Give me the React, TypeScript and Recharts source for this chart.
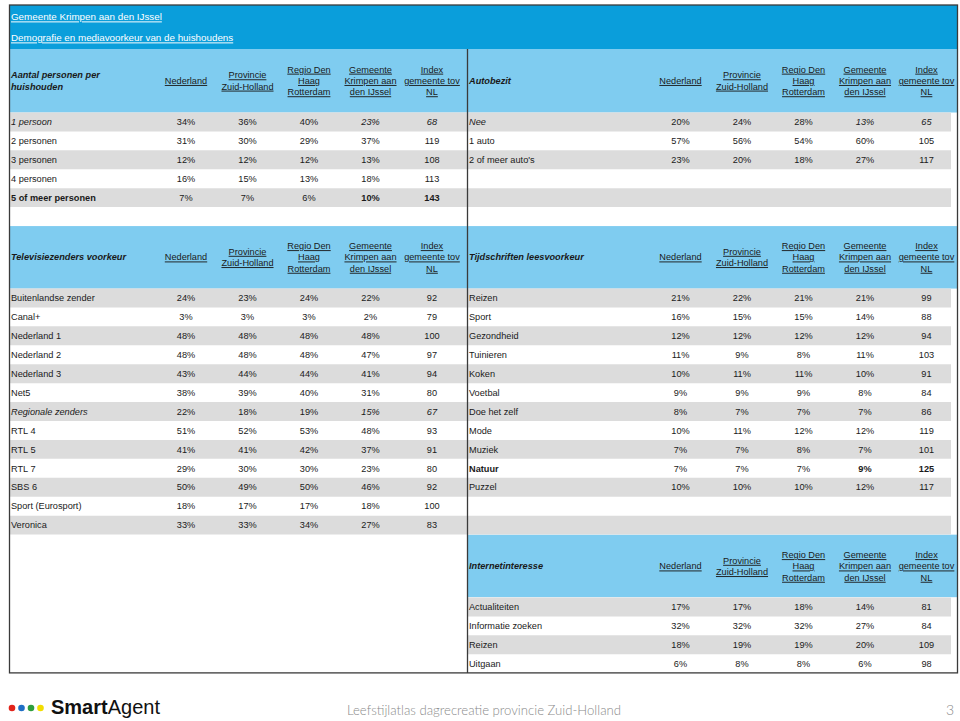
import React from 'react';
import { ScatterChart, Scatter, XAxis, YAxis, ReferenceArea, Surface } from 'recharts';

// ---------- text content ----------
const titleLines = ['Gemeente Krimpen aan den IJssel', 'Demografie en mediavoorkeur van de huishoudens'];
const columnHeaders: string[][] = [
  ['Nederland'],
  ['Provincie', 'Zuid-Holland'],
  ['Regio Den', 'Haag', 'Rotterdam'],
  ['Gemeente', 'Krimpen aan', 'den IJssel'],
  ['Index', 'gemeente tov', 'NL'],
];
const footerBrandBold = 'Smart';
const footerBrandRegular = 'Agent';
const footerCaption = 'Leefstijlatlas dagrecreatie provincie Zuid-Holland';
const footerPage = '3';
const logoDotColors = ['#e2231a', '#1f6fc5', '#2e9e3e', '#f2dd00'];

// ---------- Aantal personen per huishouden ----------
const hhTitle = ['Aantal personen per', 'huishouden'];
const hhCategories = ['1 persoon', '2 personen', '3 personen', '4 personen', '5 of meer personen'];
const hhNederland = [34, 31, 12, 16, 7];
const hhProvincie = [36, 30, 12, 15, 7];
const hhRegio = [40, 29, 12, 13, 6];
const hhGemeente = [23, 37, 13, 18, 10];
const hhIndex = [68, 119, 108, 113, 143];
const hhEmphasis = ['italic', 'normal', 'normal', 'normal', 'bold'];

// ---------- Autobezit ----------
const autoTitle = ['Autobezit'];
const autoCategories = ['Nee', '1 auto', "2 of meer auto's"];
const autoNederland = [20, 57, 23];
const autoProvincie = [24, 56, 20];
const autoRegio = [28, 54, 18];
const autoGemeente = [13, 60, 27];
const autoIndex = [65, 105, 117];
const autoEmphasis = ['italic', 'normal', 'normal'];

// ---------- Televisiezenders voorkeur ----------
const tvTitle = ['Televisiezenders voorkeur'];
const tvCategories = ['Buitenlandse zender', 'Canal+', 'Nederland 1', 'Nederland 2', 'Nederland 3', 'Net5', 'Regionale zenders', 'RTL 4', 'RTL 5', 'RTL 7', 'SBS 6', 'Sport (Eurosport)', 'Veronica'];
const tvNederland = [24, 3, 48, 48, 43, 38, 22, 51, 41, 29, 50, 18, 33];
const tvProvincie = [23, 3, 48, 48, 44, 39, 18, 52, 41, 30, 49, 17, 33];
const tvRegio = [24, 3, 48, 48, 44, 40, 19, 53, 42, 30, 50, 17, 34];
const tvGemeente = [22, 2, 48, 47, 41, 31, 15, 48, 37, 23, 46, 18, 27];
const tvIndex = [92, 79, 100, 97, 94, 80, 67, 93, 91, 80, 92, 100, 83];
const tvEmphasis = ['normal', 'normal', 'normal', 'normal', 'normal', 'normal', 'italic', 'normal', 'normal', 'normal', 'normal', 'normal', 'normal'];

// ---------- Tijdschriften leesvoorkeur ----------
const magTitle = ['Tijdschriften leesvoorkeur'];
const magCategories = ['Reizen', 'Sport', 'Gezondheid', 'Tuinieren', 'Koken', 'Voetbal', 'Doe het zelf', 'Mode', 'Muziek', 'Natuur', 'Puzzel'];
const magNederland = [21, 16, 12, 11, 10, 9, 8, 10, 7, 7, 10];
const magProvincie = [22, 15, 12, 9, 11, 9, 7, 11, 7, 7, 10];
const magRegio = [21, 15, 12, 8, 11, 9, 7, 12, 8, 7, 10];
const magGemeente = [21, 14, 12, 11, 10, 8, 7, 12, 7, 9, 12];
const magIndex = [99, 88, 94, 103, 91, 84, 86, 119, 101, 125, 117];
const magEmphasis = ['normal', 'normal', 'normal', 'normal', 'normal', 'normal', 'normal', 'normal', 'normal', 'bold', 'normal'];

// ---------- Internetinteresse ----------
const netTitle = ['Internetinteresse'];
const netCategories = ['Actualiteiten', 'Informatie zoeken', 'Reizen', 'Uitgaan'];
const netNederland = [17, 32, 18, 6];
const netProvincie = [17, 32, 19, 8];
const netRegio = [18, 32, 19, 8];
const netGemeente = [14, 27, 20, 6];
const netIndex = [81, 84, 109, 98];
const netEmphasis = ['normal', 'normal', 'normal', 'normal'];

// ---------- styling / layout ----------
const FONT = '"Liberation Sans", Arial, Helvetica, sans-serif';
const TEXT = '#1a1a1a';
const GRAY = '#dcdcdc';
const LIGHT_BLUE = '#7fccf0';
const DARK_BLUE = '#0a9edb';
const BORDER = '#3a3a3a';
const FS = 9.2;
const LINE_H = 11.3;
const ROW_H = 18.93;

const FRAME_LEFT = 9.5;
const FRAME_RIGHT = 957.5;
const FRAME_TOP = 5;
const DIVIDER_X = 467.5;
const TABLE_TOP = 49;
const HEADER_H1 = 63.5;
const HEADER_H2 = 62.5;

type Side = { left: number; width: number; labelW: number; colW: number; stripeW: number; bandLeft: number; bandRight: number };
const SIDES: Record<string, Side> = {
  left: { left: 10, width: 457.5, labelW: 145.25, colW: 61.5, stripeW: 457.5, bandLeft: FRAME_LEFT, bandRight: DIVIDER_X },
  right: { left: 468, width: 489.5, labelW: 181.75, colW: 61.5, stripeW: 483, bandLeft: DIVIDER_X, bandRight: FRAME_RIGHT },
};

type Block = {
  side: string;
  top: number;
  headerH: number;
  slots: number;
  title: string[];
  categories: string[];
  cols: number[][];
  emphasis: string[];
};

const topA = TABLE_TOP;
const topC = topA + HEADER_H1 + (hhCategories.length + 1) * ROW_H;
const topE = topC + HEADER_H2 + tvCategories.length * ROW_H;
const tableBottom = topE + HEADER_H2 + netCategories.length * ROW_H;

const blocks: Block[] = [
  { side: 'left', top: topA, headerH: HEADER_H1, slots: hhCategories.length, title: hhTitle, categories: hhCategories, cols: [hhNederland, hhProvincie, hhRegio, hhGemeente, hhIndex], emphasis: hhEmphasis },
  { side: 'right', top: topA, headerH: HEADER_H1, slots: hhCategories.length, title: autoTitle, categories: autoCategories, cols: [autoNederland, autoProvincie, autoRegio, autoGemeente, autoIndex], emphasis: autoEmphasis },
  { side: 'left', top: topC, headerH: HEADER_H2, slots: tvCategories.length, title: tvTitle, categories: tvCategories, cols: [tvNederland, tvProvincie, tvRegio, tvGemeente, tvIndex], emphasis: tvEmphasis },
  { side: 'right', top: topC, headerH: HEADER_H2, slots: tvCategories.length, title: magTitle, categories: magCategories, cols: [magNederland, magProvincie, magRegio, magGemeente, magIndex], emphasis: magEmphasis },
  { side: 'right', top: topE, headerH: HEADER_H2, slots: netCategories.length, title: netTitle, categories: netCategories, cols: [netNederland, netProvincie, netRegio, netGemeente, netIndex], emphasis: netEmphasis },
];

const baselines = (center: number, n: number) =>
  Array.from({ length: n }, (_, k) => center - ((n - 1) / 2) * LINE_H + k * LINE_H + FS * 0.35);

const emphStyle = (e: string) => ({
  fontStyle: e === 'italic' ? 'italic' : 'normal',
  fontWeight: e === 'bold' ? 'bold' : 'normal',
});

const LabelShape = (props: any) => {
  const { cx, cy, payload } = props;
  if (cx == null || cy == null) return <g />;
  return (
    <text x={cx + 1} y={cy + FS * 0.35} fontFamily={FONT} fontSize={FS} fill={TEXT} textAnchor="start" {...emphStyle(payload.emph)}>
      {payload.text}
    </text>
  );
};

const CellShape = (props: any) => {
  const { cx, cy, payload } = props;
  if (cx == null || cy == null) return <g />;
  return (
    <text x={cx} y={cy + FS * 0.35} fontFamily={FONT} fontSize={FS} fill={TEXT} textAnchor="middle" {...emphStyle(payload.emph)}>
      {payload.text}
    </text>
  );
};

function TableBlock({ block }: { block: Block }) {
  const g = SIDES[block.side];
  const totalU = g.width / g.colW;
  const labelU = g.labelW / g.colW;
  const stripeU = g.stripeW / g.colW;
  const height = block.headerH + block.slots * ROW_H;
  const headerTicks = columnHeaders.map((_, j) => labelU + j + 0.5);

  const labelPoints = block.categories.map((c, i) => ({ x: 0, y: i + 0.5, text: c, emph: block.emphasis[i] }));
  const cellPoints: any[] = [];
  block.cols.forEach((col, j) =>
    col.forEach((v, i) =>
      cellPoints.push({
        x: labelU + j + 0.5,
        y: i + 0.5,
        text: j < 4 ? `${v}%` : `${v}`,
        emph: j >= 3 ? block.emphasis[i] : 'normal',
      })
    )
  );
  const stripes = Array.from({ length: block.slots }, (_, i) => i).filter((i) => i % 2 === 0);

  const HeaderTick = (props: any) => {
    const { x, payload } = props;
    const center = block.headerH / 2;
    if (Math.abs(payload.value) < 1e-9) {
      const bl = baselines(center, block.title.length);
      return (
        <text fontFamily={FONT} fontSize={FS} fill={TEXT} fontWeight="bold" fontStyle="italic" textAnchor="start">
          {block.title.map((l, k) => (
            <tspan key={k} x={x + 1} y={bl[k]}>{l}</tspan>
          ))}
        </text>
      );
    }
    const j = headerTicks.findIndex((t) => Math.abs(t - payload.value) < 1e-6);
    const lines = columnHeaders[j] || [];
    const bl = baselines(center, lines.length);
    return (
      <g>
        {lines.map((l, k) => (
          <text key={k} x={x} y={bl[k]} fontFamily={FONT} fontSize={FS} fill={TEXT} textAnchor="middle" style={{ textDecoration: 'underline' }}>
            {l}
          </text>
        ))}
      </g>
    );
  };

  return (
    <div style={{ position: 'absolute', left: g.left, top: block.top, width: g.width, height }}>
      <ScatterChart width={g.width} height={height} margin={{ top: 0, right: 0, bottom: 0, left: 0 }}>
        <XAxis
          type="number"
          dataKey="x"
          orientation="top"
          height={block.headerH}
          domain={[0, totalU]}
          ticks={[0, ...headerTicks]}
          interval={0}
          axisLine={false}
          tickLine={false}
          tick={HeaderTick}
          allowDataOverflow
        />
        <YAxis type="number" dataKey="y" domain={[0, block.slots]} reversed hide allowDataOverflow />
        {stripes.map((i) => (
          <ReferenceArea key={i} x1={0} x2={stripeU} y1={i} y2={i + 1} fill={GRAY} fillOpacity={1} stroke="none" ifOverflow="visible" />
        ))}
        <Scatter data={labelPoints} shape={LabelShape} isAnimationActive={false} />
        <Scatter data={cellPoints} shape={CellShape} isAnimationActive={false} />
      </ScatterChart>
    </div>
  );
}

export default function App() {
  const frameW = FRAME_RIGHT - FRAME_LEFT;
  return (
    <div style={{ position: 'absolute', left: 0, top: 0, width: 960, height: 721, background: '#fff', overflow: 'hidden' }}>
      {/* background layer: title band and header bands */}
      <div style={{ position: 'absolute', left: 0, top: 0 }}>
        <Surface width={960} height={721}>
          <rect x={FRAME_LEFT} y={FRAME_TOP} width={frameW} height={TABLE_TOP - FRAME_TOP} fill={DARK_BLUE} />
          {titleLines.map((t, k) => (
            <text key={k} x={11} y={17 + k * 21 + 3.4} fontFamily={FONT} fontSize={9.8} fill="#ffffff" style={{ textDecoration: 'underline' }}>
              {t}
            </text>
          ))}
          {blocks.map((b, k) => {
            const g = SIDES[b.side];
            return <rect key={k} x={g.bandLeft} y={b.top} width={g.bandRight - g.bandLeft} height={b.headerH} fill={LIGHT_BLUE} />;
          })}
        </Surface>
      </div>

      {blocks.map((b, k) => (
        <TableBlock key={k} block={b} />
      ))}

      {/* foreground layer: frame, divider, footer */}
      <div style={{ position: 'absolute', left: 0, top: 0, pointerEvents: 'none' }}>
        <Surface width={960} height={721}>
          <rect x={FRAME_LEFT} y={FRAME_TOP} width={frameW} height={tableBottom - FRAME_TOP} fill="none" stroke={BORDER} strokeWidth={1.3} />
          <line x1={DIVIDER_X} x2={DIVIDER_X} y1={TABLE_TOP} y2={tableBottom} stroke={BORDER} strokeWidth={1.3} />
          {logoDotColors.map((c, k) => (
            <circle key={k} cx={12 + k * 9.5} cy={708} r={3.3} fill={c} />
          ))}
          <text x={51} y={713.5} fontFamily={FONT} fontSize={20} fill="#111">
            <tspan fontWeight="bold">{footerBrandBold}</tspan>
            <tspan fontWeight="normal">{footerBrandRegular}</tspan>
          </text>
          <text x={347} y={714.5} fontFamily='Lato, "Open Sans", sans-serif' fontWeight={300} fontSize={13.5} fill="#8a8a8a" textLength={274} lengthAdjust="spacingAndGlyphs">
            {footerCaption}
          </text>
          <text x={950} y={715} fontFamily='Lato, "Open Sans", sans-serif' fontWeight={300} fontSize={14} fill="#8a8a8a" textAnchor="middle">
            {footerPage}
          </text>
        </Surface>
      </div>
    </div>
  );
}
